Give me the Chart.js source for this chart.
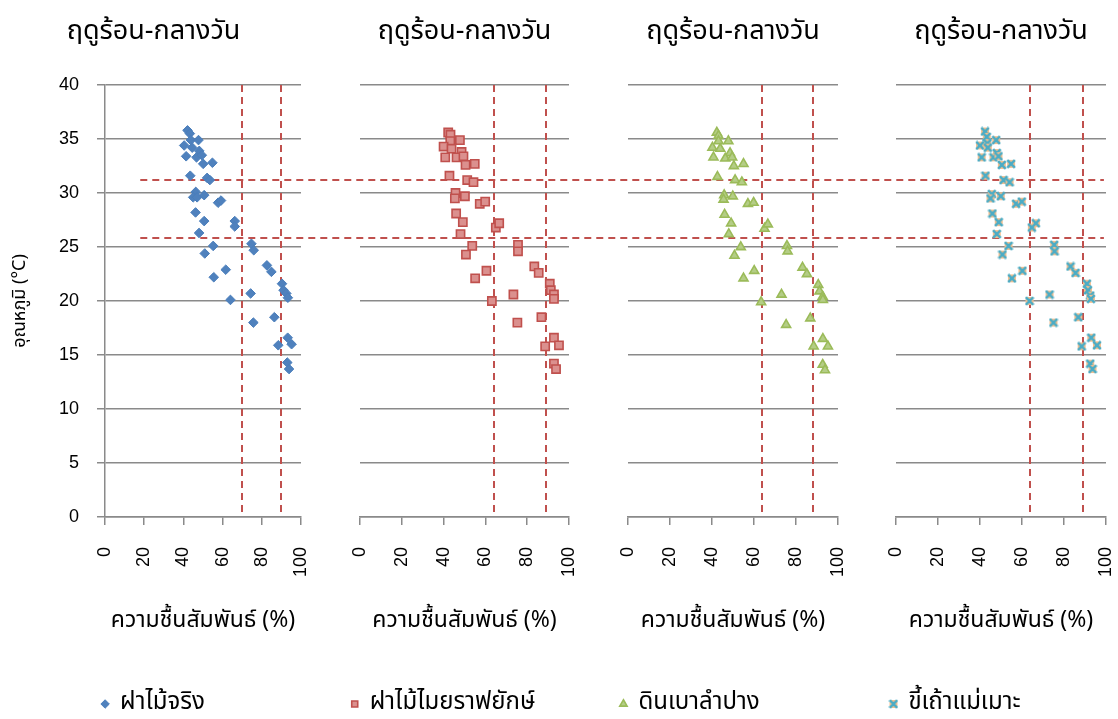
<!DOCTYPE html>
<html>
<head>
<meta charset="utf-8">
<script src="https://cdn.jsdelivr.net/npm/chart.js@4.4.1/dist/chart.umd.min.js"></script>
<style>
  html, body { margin: 0; padding: 0; background: #fff; overflow: hidden; width: 1118px; height: 719px; }
  canvas { position: absolute; top: 0; }
  #guides { left: 0; z-index: 0; pointer-events: none; }
  .plot { z-index: 1; }
</style>
</head>
<body>
<canvas id="guides" width="1118" height="726"></canvas>
<canvas id="c1" class="plot"></canvas>
<canvas id="c2" class="plot"></canvas>
<canvas id="c3" class="plot"></canvas>
<canvas id="c4" class="plot"></canvas>
<script>
// Panel titles and axis titles
const panelTitle = 'ฤดูร้อน-กลางวัน';
const xTitle = 'ความชื้นสัมพันธ์ (%)';
const yTitle = 'อุณหภูมิ (°C)';
const seriesNames = ['ฝาไม้จริง', 'ฝาไม้ไมยราฟยักษ์', 'ดินเบาลำปาง', 'ขี้เถ้าแม่เมาะ'];

// Relative humidity (%) and temperature (°C) readings per wall material
const woodRH   = [42.1,43.3,43.8,47.7,40.4,44.5,48.1,41.4,46.7,49.4,50.1,54.8,43.5,52.1,53.5,46.3,45.0,47.0,50.6,57.7,59.2,46.2,50.6,66.2,66.2,48.0,55.2,74.7,75.9,50.9,82.6,84.9,61.6,55.5,90.3,91.1,92.5,93.3,74.3,64.0,86.4,75.7,93.2,95.2,88.4,93.0,93.9];
const woodTemp = [35.8,35.5,34.9,34.9,34.4,34.2,33.9,33.4,33.3,33.5,32.7,32.8,31.6,31.4,31.2,30.1,29.6,29.6,29.8,29.1,29.3,28.2,27.4,27.4,26.9,26.3,25.1,25.3,24.7,24.4,23.3,22.7,22.9,22.2,21.6,21.0,20.7,20.3,20.7,20.1,18.5,18.0,16.6,16.0,15.9,14.3,13.7];

const mimosaRH   = [42.2,43.3,43.2,47.8,40.0,43.8,48.6,40.8,46.2,49.5,50.5,54.9,42.8,51.3,54.3,45.7,45.4,50.2,57.3,59.9,46.0,49.2,65.0,66.6,48.1,53.7,75.6,75.6,50.7,83.4,85.5,60.5,55.1,90.8,91.3,92.8,92.8,73.4,63.1,86.8,75.3,92.8,95.2,88.6,92.8,93.8];
const mimosaTemp = [35.6,35.4,34.8,34.9,34.3,34.1,33.8,33.3,33.3,33.4,32.6,32.7,31.6,31.2,31.0,30.0,29.5,29.7,29.0,29.2,28.1,27.3,26.8,27.2,26.2,25.1,25.2,24.6,24.3,23.2,22.6,22.8,22.1,21.6,21.0,20.6,20.2,20.6,20.0,18.5,18.0,16.6,15.9,15.8,14.2,13.7];

const diatomiteRH   = [42.3,43.1,43.1,47.8,40.2,43.9,48.6,40.7,46.3,49.6,50.4,55.0,42.6,51.0,54.2,45.8,45.5,49.9,57.1,59.8,46.0,49.1,65.0,66.6,48.0,53.7,75.7,76.0,50.7,83.1,85.2,60.1,55.0,90.6,91.2,92.7,92.8,73.1,63.4,86.8,75.3,92.8,95.2,88.4,92.7,93.8];
const diatomiteTemp = [35.6,35.3,34.8,34.8,34.2,34.1,33.7,33.3,33.2,33.3,32.5,32.7,31.5,31.2,31.0,29.8,29.4,29.7,29.0,29.1,28.0,27.2,26.7,27.1,26.2,25.0,25.1,24.6,24.2,23.1,22.5,22.8,22.1,21.5,20.9,20.4,20.1,20.6,19.9,18.4,17.8,16.5,15.8,15.8,14.1,13.6];

const flyashRH   = [42.4,43.2,43.5,47.7,40.0,43.7,48.0,40.8,46.4,48.8,50.4,54.8,42.6,51.2,54.1,45.6,45.0,49.9,57.2,59.9,45.9,48.9,64.7,66.6,48.0,53.6,75.3,75.5,50.7,83.1,85.5,60.2,55.2,90.9,91.4,92.5,92.8,73.1,63.6,86.8,75.0,93.0,95.7,88.4,92.5,93.6];
const flyashTemp = [35.7,35.2,34.6,34.9,34.4,34.2,33.7,33.3,33.3,33.4,32.6,32.7,31.6,31.2,31.0,29.9,29.5,29.7,29.0,29.2,28.1,27.3,26.8,27.2,26.2,25.1,25.2,24.6,24.3,23.2,22.6,22.8,22.1,21.6,21.0,20.5,20.2,20.6,20.0,18.5,18.0,16.6,15.9,15.8,14.2,13.7];

// Comfort-zone limits: humidity bounds per panel, temperature bounds shared
const woodRHLimits      = [70, 90];
const mimosaRHLimits    = [64, 89];
const diatomiteRHLimits = [64, 88];
const flyashRHLimits    = [64, 89];
const tempLimits        = [31.2, 25.8];
const tempLimitSpan     = [18, 99];   // from first panel's x value to last panel's x value

// Axis ticks
const xTickStep = 20, yTickStep = 5;

const THAI = "'Noto Sans Thai', 'Noto Sans Thai UI', Tahoma, 'DejaVu Sans', sans-serif";
const LATIN = "'Liberation Sans', Arial, sans-serif";
const GRID = '#8a8a8a';
const DASH = '#C0504D';

const toPoints = (xs, ys) => xs.map((v, i) => ({ x: v, y: ys[i] }));

// Cross marker with a light orange backing, used for the fly-ash series
function crossMarker(size) {
  const c = document.createElement('canvas');
  c.width = size; c.height = size;
  const g = c.getContext('2d');
  g.fillStyle = '#F9C08E';
  g.fillRect(1, 1, size - 2, size - 2);
  g.strokeStyle = '#4BACC6';
  g.lineWidth = 2.6;
  g.beginPath();
  g.moveTo(1.2, 1.2); g.lineTo(size - 1.2, size - 1.2);
  g.moveTo(size - 1.2, 1.2); g.lineTo(1.2, size - 1.2);
  g.stroke();
  return c;
}

const series = [
  { name: seriesNames[0], data: toPoints(woodRH, woodTemp), limits: woodRHLimits,
    style: { pointStyle: 'rectRot', radius: 4.8, bg: '#4F81BD', border: '#4A7EBB', bw: 1 } },
  { name: seriesNames[1], data: toPoints(mimosaRH, mimosaTemp), limits: mimosaRHLimits,
    style: { pointStyle: 'rect', radius: 5.8, bg: '#DB908E', border: '#C0504D', bw: 1.6 } },
  { name: seriesNames[2], data: toPoints(diatomiteRH, diatomiteTemp), limits: diatomiteRHLimits,
    style: { pointStyle: 'triangle', radius: 5.2, bg: '#B4CD86', border: '#9BBB59', bw: 1.6 } },
  { name: seriesNames[3], data: toPoints(flyashRH, flyashTemp), limits: flyashRHLimits,
    style: { pointStyle: crossMarker(10), radius: 5, bg: '#F9C08E', border: '#4BACC6', bw: 1 } }
];

// Page placement of each panel canvas (right padding leaves room for the rotated "100")
const PAD_R = 50;
const layoutSpec = [
  { left: 0,   width: 301 + PAD_R, padL: 6, yW: 99 },
  { left: 318, width: 251 + PAD_R, padL: 0, yW: 42 },
  { left: 542, width: 296 + PAD_R, padL: 0, yW: 86 },
  { left: 805, width: 301 + PAD_R, padL: 0, yW: 91 }
];
const CANVAS_H = 726;

// Vertical dashed humidity limits drawn through each panel's own scales
const limitLines = {
  id: 'limitLines',
  beforeDatasetsDraw(chart, args, opts) {
    const { ctx, scales: { x, y } } = chart;
    ctx.save();
    ctx.strokeStyle = DASH;
    ctx.lineWidth = 2;
    ctx.setLineDash([7, 5]);
    for (const v of opts.values) {
      const px = Math.round(x.getPixelForValue(v));
      ctx.beginPath();
      ctx.moveTo(px, y.getPixelForValue(y.max));
      ctx.lineTo(px, y.getPixelForValue(y.min));
      ctx.stroke();
    }
    ctx.restore();
  }
};

const charts = series.map((s, k) => {
  const spec = layoutSpec[k];
  const cv = document.getElementById('c' + (k + 1));
  cv.width = spec.width;
  cv.height = CANVAS_H;
  cv.style.left = spec.left + 'px';
  const first = k === 0;
  return new Chart(cv, {
    type: 'scatter',
    data: {
      datasets: [{
        label: s.name,
        data: s.data,
        pointStyle: s.style.pointStyle,
        pointRadius: s.style.radius,
        pointHoverRadius: s.style.radius,
        backgroundColor: s.style.bg,
        borderColor: s.style.border,
        borderWidth: s.style.bw,
        pointBorderWidth: s.style.bw
      }]
    },
    options: {
      responsive: false,
      animation: false,
      devicePixelRatio: 1,
      layout: { padding: { left: spec.padL, right: PAD_R, top: 0, bottom: 0 } },
      plugins: {
        tooltip: { enabled: false },
        limitLines: { values: s.limits },
        title: {
          display: true,
          text: panelTitle,
          fullSize: first,
          color: '#000',
          font: { family: THAI, size: 27, weight: 'normal', lineHeight: 1.2 },
          padding: { top: 17, bottom: 35.6 }
        },
        legend: {
          display: true,
          position: 'bottom',
          align: 'center',
          labels: {
            usePointStyle: true,
            boxWidth: 6,
            boxHeight: 6,
            padding: 10,
            color: '#000',
            font: { family: THAI, size: 24 }
          }
        }
      },
      scales: {
        x: {
          type: 'linear',
          min: 0, max: 100,
          ticks: { stepSize: xTickStep, minRotation: 90, maxRotation: 90, padding: 22, color: '#000',
                   font: { family: LATIN, size: 18 } },
          grid: { drawOnChartArea: false, drawTicks: true, tickLength: 8, color: GRID, lineWidth: 1.5 },
          border: { display: true, color: GRID, width: 1.5 },
          title: { display: true, text: xTitle, color: '#000', font: { family: THAI, size: 23 },
                   padding: { top: 0, bottom: 46 } },
          afterFit(scale) { scale.height = 165; }
        },
        y: {
          type: 'linear',
          min: 0, max: 40,
          ticks: { display: first, stepSize: yTickStep, padding: 18, color: '#000',
                   font: { family: LATIN, size: 18 } },
          grid: { color: GRID, lineWidth: 1.5, drawTicks: first, tickLength: 8 },
          border: { display: first, color: GRID, width: 1.5 },
          title: { display: first, text: yTitle, color: '#000', font: { family: THAI, size: 18 },
                   padding: { top: 5, bottom: 0 } },
          afterFit(scale) { scale.width = spec.yW; }
        }
      }
    },
    plugins: [limitLines]
  });
});

// Horizontal dashed temperature limits running across all four panels
(function drawTempLimits() {
  const g = document.getElementById('guides').getContext('2d');
  const c1 = charts[0], c4 = charts[3];
  const x0 = layoutSpec[0].left + c1.scales.x.getPixelForValue(tempLimitSpan[0]);
  const x1 = layoutSpec[3].left + c4.scales.x.getPixelForValue(tempLimitSpan[1]);
  g.strokeStyle = DASH;
  g.lineWidth = 2;
  g.setLineDash([7, 5]);
  for (const t of tempLimits) {
    const py = Math.round(c1.scales.y.getPixelForValue(t));
    g.beginPath();
    g.moveTo(x0, py);
    g.lineTo(x1, py);
    g.stroke();
  }
})();
</script>
</body>
</html>
